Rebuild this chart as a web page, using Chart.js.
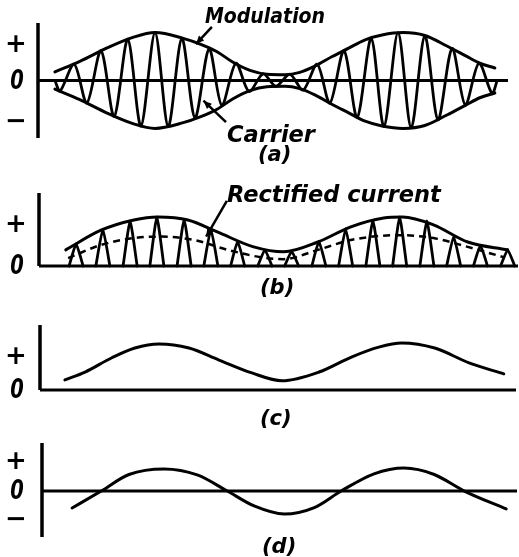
<!DOCTYPE html>
<html>
<head>
<meta charset="utf-8">
<script src="https://cdn.jsdelivr.net/npm/chart.js@4.4.1/dist/chart.umd.min.js"></script>
<style>
body { margin: 0; background: #fff; }
#wrap { position: relative; width: 519px; height: 557px; overflow: hidden; }
canvas { position: absolute; left: 0; }
.lbl { position: absolute; font: italic bold 21px "DejaVu Sans", sans-serif; color: #000; white-space: nowrap; line-height: 1; transform-origin: left center; }
</style>
</head>
<body>
<div id="wrap">
  <canvas id="ca" width="519" height="150" style="top:0"></canvas>
  <canvas id="cb" width="519" height="130" style="top:170px"></canvas>
  <canvas id="cc" width="519" height="100" style="top:310px"></canvas>
  <canvas id="cd" width="519" height="127" style="top:430px"></canvas>

  <div class="lbl" style="left:205px;top:5px;font-size:22px;transform:scaleX(0.86)">Modulation</div>
  <div class="lbl" style="left:227px;top:123px;font-size:22.5px">Carrier</div>
  <div class="lbl" style="left:258px;top:144px">(a)</div>
  <div class="lbl" style="left:227px;top:183px;font-size:22.5px">Rectified current</div>
  <div class="lbl" style="left:260px;top:277px">(b)</div>
  <div class="lbl" style="left:260px;top:408px">(c)</div>
  <div class="lbl" style="left:262px;top:536px">(d)</div>
</div>
<script>
// ---- data (time axis 0..100, amplitude relative to peak) ----

// (a) modulated carrier: extremes of the carrier, and the modulation envelope
var carrierT = [3.6, 4.7, 7.7, 10.4, 13.4, 16.2, 19.1, 21.9, 24.9, 27.7, 30.6, 33.4, 36.4, 39.1, 42.1, 44.9, 47.9,
                50.6, 53.6, 56.4, 59.4, 62.1, 65.1, 67.9, 70.9, 73.6, 76.6, 79.4, 82.3, 85.1, 88.1, 90.9, 93.8, 96.6, 97.7];
var carrierV = [0, -0.22, 0.34, -0.47, 0.62, -0.75, 0.86, -0.95, 1.0, -0.96, 0.88, -0.78, 0.66, -0.52, 0.36, -0.23, 0.14,
                -0.12, 0.13, -0.2, 0.34, -0.47, 0.62, -0.77, 0.88, -0.96, 1.0, -0.99, 0.93, -0.82, 0.67, -0.51, 0.36, -0.27, 0];
var envT = [3.6, 8.9, 14.7, 20.2, 24.9, 30.9, 34.5, 38.1, 41.5, 45.1, 48.7, 52.6, 55.7, 58.9, 62.6, 66.0, 69.6, 73.2, 77.7, 82.3, 87.0, 90.9, 94.0, 97.2];
var envA = [0.18, 0.4, 0.68, 0.9, 1.0, 0.88, 0.76, 0.6, 0.38, 0.21, 0.13, 0.12, 0.17, 0.3, 0.5, 0.67, 0.85, 0.95, 1.0, 0.94, 0.72, 0.52, 0.36, 0.26];

// (b) rectified pulses, their envelope and the rectified (average) current
var humpT = [7.9, 13.6, 19.4, 25.1, 30.9, 36.6, 42.3, 48.1, 53.8, 59.6, 65.3, 71.1, 76.8, 82.6, 88.3, 94.0, 99.8];
var humpH = [0.45, 0.75, 0.92, 1.0, 0.95, 0.75, 0.5, 0.33, 0.3, 0.5, 0.76, 0.93, 1.0, 0.92, 0.6, 0.42, 0.33];
var bEnvT = [5.7, 13.2, 20.2, 25.3, 31.7, 38.1, 45.7, 52.1, 59.4, 66.4, 73.4, 77.4, 84.0, 91.3, 99.8];
var bEnvA = [0.33, 0.73, 0.94, 1.0, 0.94, 0.69, 0.39, 0.29, 0.49, 0.8, 0.98, 1.0, 0.84, 0.49, 0.33];
var dashT = [6.2, 13.2, 20.2, 26.0, 33.0, 40.2, 47.2, 52.1, 59.4, 66.4, 76.4, 84.0, 91.3, 98.9];
var dashA = [0.16, 0.43, 0.57, 0.6, 0.53, 0.33, 0.18, 0.14, 0.33, 0.53, 0.63, 0.57, 0.39, 0.18];

// (c) detected current (d.c. + audio)
var cT = [5.3, 9.6, 15.3, 20.2, 25.3, 31.7, 38.1, 45.1, 51.5, 59.4, 66.4, 72.1, 77.0, 84.0, 91.3, 98.7];
var cV = [0.22, 0.39, 0.7, 0.91, 1.0, 0.91, 0.65, 0.37, 0.2, 0.39, 0.72, 0.93, 1.02, 0.91, 0.59, 0.35];

// (d) audio component only
var dT = [6.4, 12.6, 18.5, 26.0, 33.0, 39.4, 45.1, 51.5, 57.9, 63.6, 70.6, 77.0, 83.4, 89.8, 98.7];
var dV = [-0.74, 0, 0.72, 0.96, 0.7, 0, -0.65, -1.0, -0.72, 0, 0.75, 1.0, 0.72, 0, -0.78];

// axis sign labels
var signText = ['+', '0', '\u2212'];
var aSignY = [0.74, 0, -0.87];
var bSignY = [0.84, 0];
var cSignY = [0.72, 0];
var dSignY = [1.26, 0, -1.26];

// ---- helpers ----
function pts(xs, ys, k) {
  k = k || 1;
  return xs.map(function (x, i) { return { x: x, y: ys[i] * k }; });
}

function line(data, extra) {
  var ds = { data: data, borderColor: '#000', borderWidth: 3, fill: false, pointRadius: 0,
             cubicInterpolationMode: 'monotone', clip: false,
             borderCapStyle: 'round', borderJoinStyle: 'round' };
  for (var k in extra) ds[k] = extra[k];
  return ds;
}

function axes(xmax, ymin, ymax) {
  return [
    line([{ x: 0, y: ymin }, { x: 0, y: ymax }], { cubicInterpolationMode: 'default', tension: 0, borderWidth: 3.5, borderCapStyle: 'butt' }),
    line([{ x: 0, y: 0 }, { x: xmax, y: 0 }], { cubicInterpolationMode: 'default', tension: 0, borderWidth: 3, borderCapStyle: 'butt' })
  ];
}

// signs on the left and small pointer arrows
var decor = {
  id: 'decor',
  afterDatasetsDraw: function (chart) {
    var o = chart.options.plugins.decor;
    var ctx = chart.ctx, xs = chart.scales.x, ys = chart.scales.y;
    ctx.save();
    ctx.fillStyle = '#000';
    ctx.textAlign = 'center';
    ctx.textBaseline = 'middle';
    o.signs.forEach(function (v, i) {
      var t = signText[i];
      var y = ys.getPixelForValue(v);
      if (t === '0') {
        // narrow slanted zero as in the drawing
        ctx.save();
        ctx.translate(17, y + 1);
        ctx.scale(0.72, 1);
        ctx.font = 'italic bold 27px "DejaVu Sans"';
        ctx.fillText(t, 0, 0);
        ctx.restore();
      } else {
        ctx.font = 'bold 26px "DejaVu Sans"';
        ctx.fillText(t, 16, y);
      }
    });
    (o.arrows || []).forEach(function (a) {
      var x1 = xs.getPixelForValue(a[0]), y1 = ys.getPixelForValue(a[1]);
      var x2 = xs.getPixelForValue(a[2]), y2 = ys.getPixelForValue(a[3]);
      var ang = Math.atan2(y2 - y1, x2 - x1);
      ctx.strokeStyle = '#000';
      ctx.lineWidth = 2.5;
      ctx.beginPath();
      ctx.moveTo(x1, y1);
      ctx.lineTo(x2, y2);
      ctx.stroke();
      ctx.beginPath();
      ctx.moveTo(x2, y2);
      ctx.lineTo(x2 - 9 * Math.cos(ang - 0.4), y2 - 9 * Math.sin(ang - 0.4));
      ctx.lineTo(x2 - 9 * Math.cos(ang + 0.4), y2 - 9 * Math.sin(ang + 0.4));
      ctx.closePath();
      ctx.fill();
    });
    ctx.restore();
  }
};

function panel(id, pad, xmax, ymin, ymax, datasets, signs, arrows) {
  return new Chart(document.getElementById(id), {
    type: 'line',
    data: { datasets: axes(xmax, ymin, ymax).concat(datasets) },
    options: {
      responsive: false,
      animation: false,
      devicePixelRatio: 1,
      layout: { padding: pad },
      scales: {
        x: { type: 'linear', display: false, min: 0, max: xmax },
        y: { type: 'linear', display: false, min: ymin, max: ymax }
      },
      plugins: {
        legend: { display: false },
        tooltip: { enabled: false },
        decor: { signs: signs, arrows: arrows }
      }
    },
    plugins: [decor]
  });
}

// (a)
panel('ca', { left: 38, right: 11, top: 23, bottom: 12 }, 100, -1.2, 1.2, [
  line(pts(envT, envA)),
  line(pts(envT, envA, -1)),
  line(pts(carrierT, carrierV), { cubicInterpolationMode: 'default', tension: 0.3, borderWidth: 2.8 })
], aSignY, [[37.0, 1.12, 33.6, 0.76], [40.0, -0.87, 35.2, -0.42]]);

// (b) build half-wave pulses from their peak times and heights
var halfWidth = 1.5;
var pulses = [];
humpT.forEach(function (t, i) {
  pulses.push({ x: t - halfWidth, y: 0 }, { x: t, y: humpH[i] }, { x: t + halfWidth, y: 0 }, { x: t + halfWidth, y: null });
});
panel('cb', { left: 39, right: 1, top: 23, bottom: 34 }, 102, 0, 1.49, [
  line(pts(bEnvT, bEnvA)),
  line(pulses, { cubicInterpolationMode: 'default', tension: 0.15, borderWidth: 2.8 }),
  line(pts(dashT, dashA), { borderDash: [7, 5], borderWidth: 2.5, borderCapStyle: 'butt' })
], bSignY, [[40.0, 1.33, 35.6, 0.6]]);

// (c)
panel('cc', { left: 40, right: 3, top: 15, bottom: 20 }, 101.3, 0, 1.41, [
  line(pts(cT, cV))
], cSignY, []);

// (d)
panel('cd', { left: 42, right: 2, top: 13, bottom: 20 }, 101, -2.0, 2.09, [
  line(pts(dT, dV))
], dSignY, []);
</script>
</body>
</html>
